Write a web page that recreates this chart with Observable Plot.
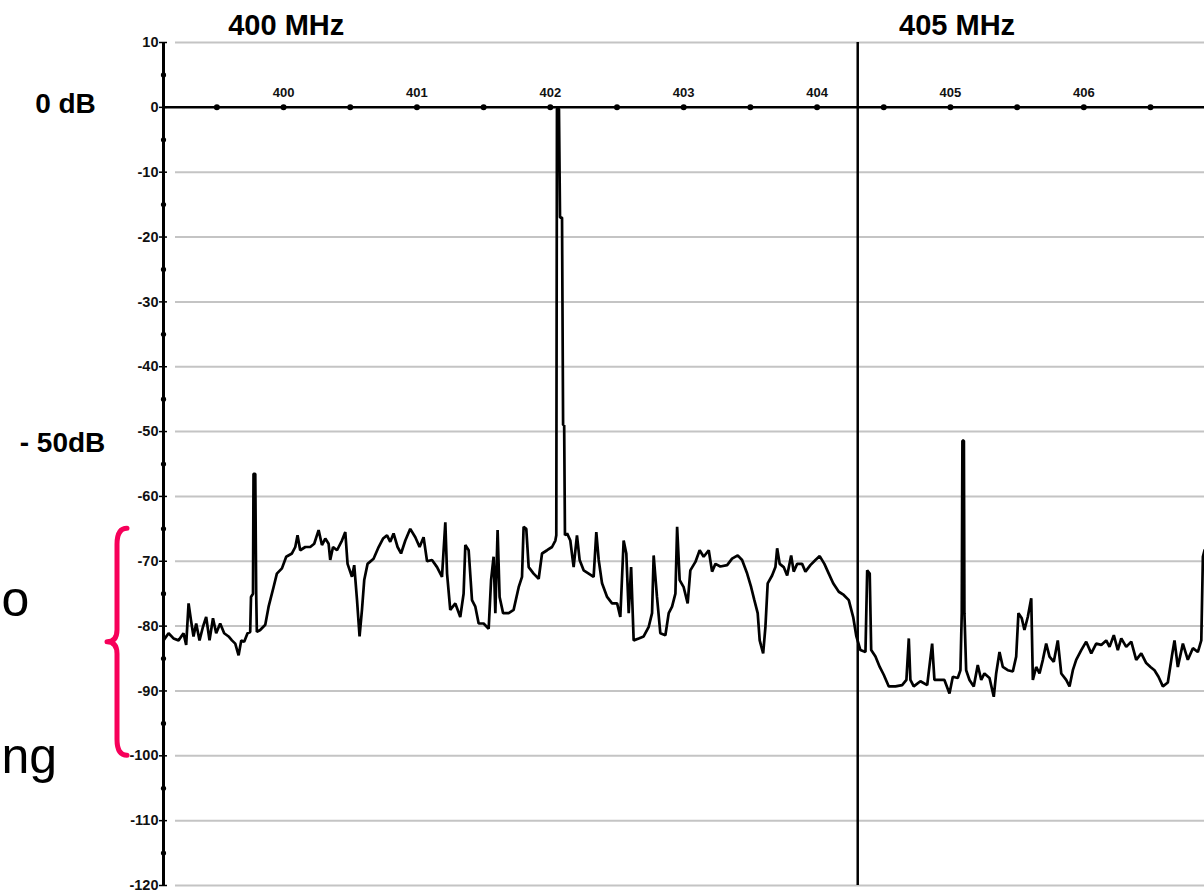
<!DOCTYPE html>
<html>
<head>
<meta charset="utf-8">
<script src="https://cdn.jsdelivr.net/npm/d3@7"></script>
<script src="https://cdn.jsdelivr.net/npm/@observablehq/plot@0.6"></script>
<style>
  html, body { margin: 0; padding: 0; background: #fff; overflow: hidden; }
  #chart svg { display: block; }
</style>
</head>
<body>
<div id="chart"></div>
<script>
// ---- data ----
const freqMHz = [
  399.100,399.138,399.175,399.213,399.250,399.270,399.288,399.306,399.325,399.345,
  399.370,399.396,399.420,399.445,399.471,399.495,399.525,399.555,399.588,399.613,
  399.638,399.663,399.683,399.705,399.730,399.750,399.756,399.771,399.775,399.788,
  399.795,399.800,399.825,399.863,399.888,399.925,399.950,399.988,400.020,400.063,
  400.088,400.105,400.125,400.163,400.200,400.230,400.263,400.288,400.313,400.338,
  400.350,400.371,400.401,400.438,400.463,400.480,400.513,400.530,400.551,400.570,
  400.588,400.605,400.630,400.675,400.713,400.746,400.776,400.800,400.825,400.855,
  400.881,400.913,400.950,400.988,401.020,401.050,401.076,401.113,401.151,401.188,
  401.213,401.226,401.250,401.288,401.325,401.350,401.363,401.388,401.413,401.438,
  401.463,401.500,401.538,401.556,401.575,401.588,401.605,401.620,401.646,401.688,
  401.725,401.763,401.788,401.800,401.820,401.838,401.875,401.913,401.938,401.976,
  402.013,402.038,402.045,402.050,402.065,402.073,402.088,402.096,402.104,402.110,
  402.126,402.150,402.175,402.200,402.220,402.250,402.288,402.325,402.345,402.363,
  402.388,402.426,402.463,402.501,402.525,402.550,402.570,402.588,402.606,402.625,
  402.663,402.700,402.738,402.763,402.775,402.800,402.825,402.863,402.888,402.913,
  402.938,402.951,402.970,403.000,403.030,403.050,403.088,403.120,403.150,403.188,
  403.213,403.238,403.275,403.326,403.363,403.405,403.438,403.476,403.506,403.530,
  403.555,403.570,403.596,403.613,403.630,403.663,403.688,403.701,403.720,403.750,
  403.776,403.806,403.825,403.851,403.888,403.913,403.950,403.988,404.020,404.055,
  404.088,404.121,404.163,404.200,404.238,404.271,404.295,404.325,404.363,404.376,
  404.395,404.406,404.438,404.470,404.500,404.538,404.588,404.638,404.670,404.688,
  404.700,404.725,404.775,404.826,404.863,404.880,404.918,404.955,404.993,405.018,
  405.055,405.075,405.085,405.090,405.101,405.105,405.118,405.143,405.175,405.205,
  405.231,405.255,405.293,405.325,405.343,405.368,405.393,405.430,405.468,405.493,
  405.510,405.535,405.555,405.580,405.606,405.618,405.643,405.668,405.693,405.718,
  405.743,405.775,405.805,405.831,405.868,405.893,405.918,405.943,405.981,406.018,
  406.056,406.093,406.131,406.168,406.193,406.225,406.255,406.281,406.318,406.356,
  406.393,406.431,406.468,406.500,406.530,406.560,406.593,406.630,406.660,406.680,
  406.705,406.743,406.780,406.818,406.855,406.881,406.893,406.905
];
const levelDb = [
  -82.2,-81.1,-81.9,-82.2,-81.1,-82.9,-76.5,-79.1,-81.6,-79.6,
  -82.2,-80.1,-78.6,-82.2,-78.8,-81.1,-79.6,-81.1,-81.6,-82.2,
  -82.7,-84.5,-82.2,-82.4,-81.1,-80.9,-75.5,-75.0,-56.5,-56.5,
  -75.0,-80.9,-80.6,-79.8,-77.0,-74.0,-71.9,-71.1,-69.3,-68.8,
  -67.8,-66.0,-68.3,-67.8,-67.8,-67.3,-65.2,-67.5,-66.5,-67.3,
  -69.8,-67.8,-68.3,-66.8,-65.5,-70.4,-72.4,-70.6,-76.0,-81.6,
  -77.5,-72.9,-70.4,-69.6,-67.8,-66.5,-66.0,-67.0,-65.7,-67.8,
  -68.8,-66.8,-65.0,-66.3,-67.8,-66.3,-70.0,-69.8,-70.9,-72.4,
  -64.0,-71.9,-77.5,-76.5,-78.6,-75.0,-67.5,-68.3,-76.0,-77.0,
  -79.6,-79.6,-80.4,-72.9,-69.3,-78.0,-65.2,-75.5,-78.0,-78.0,
  -77.5,-74.0,-72.4,-64.7,-65.0,-70.9,-71.9,-72.7,-68.8,-68.3,
  -67.8,-66.8,-66.0,-0.2,-0.2,-17.0,-17.0,-49.0,-49.0,-66.0,
  -65.7,-66.8,-70.9,-66.0,-69.8,-71.4,-71.9,-72.4,-65.5,-69.8,
  -73.4,-75.5,-76.5,-76.5,-78.6,-66.8,-68.8,-78.0,-70.9,-82.2,
  -81.9,-81.6,-80.1,-78.0,-69.1,-75.5,-81.1,-81.4,-78.0,-77.0,
  -75.0,-64.7,-72.9,-74.0,-76.5,-71.4,-70.1,-68.3,-69.3,-68.3,
  -71.6,-70.4,-70.8,-70.6,-69.6,-69.1,-69.8,-71.9,-74.0,-76.0,
  -78.0,-82.2,-84.2,-80.1,-73.4,-72.2,-70.9,-68.0,-70.4,-70.9,
  -72.2,-69.1,-71.6,-70.4,-70.4,-71.6,-70.6,-69.8,-69.2,-70.4,
  -71.9,-73.4,-74.7,-75.2,-76.0,-78.6,-81.6,-83.7,-84.0,-71.4,
  -71.9,-83.7,-84.7,-86.3,-87.5,-89.3,-89.3,-89.1,-88.3,-81.9,
  -88.3,-89.3,-88.5,-89.1,-82.7,-88.3,-88.3,-88.3,-90.4,-87.8,
  -88.0,-86.8,-78.0,-51.4,-51.4,-78.0,-86.8,-88.3,-89.3,-86.0,
  -88.3,-87.3,-88.0,-90.9,-87.3,-84.0,-86.3,-86.8,-87.0,-84.7,
  -78.0,-78.8,-80.6,-78.6,-75.7,-88.3,-86.3,-87.3,-85.2,-82.7,
  -84.7,-85.5,-82.2,-87.3,-88.3,-89.3,-86.8,-85.2,-83.7,-82.4,
  -84.2,-82.7,-82.9,-82.2,-83.2,-81.4,-83.7,-81.9,-83.2,-82.4,
  -85.2,-84.2,-85.7,-86.3,-86.8,-87.8,-89.3,-88.7,-84.7,-82.2,
  -86.3,-82.7,-85.2,-83.4,-84.0,-82.2,-69.3,-68.3
];
const yTickValues = [10,0,-10,-20,-30,-40,-50,-60,-70,-80,-90,-100,-110,-120];
const yMinorDots = [5,-5,-15,-25,-35,-45,-55,-65,-75,-85,-95,-105,-115];
const xTickValues = [400,401,402,403,404,405,406];
const xDotValues = [399.5,400,400.5,401,401.5,402,402.5,403,403.5,404,404.5,405,405.5,406,406.5];
const markerMHz = [404.305];
const bandLabels = ["400 MHz", "405 MHz"];
const bandLabelMHz = [400.02, 405.05];
const xDomain = [399.1, 406.905];
const yDomain = [-120, 10];
const braceDb = [-65, -100];

const spectrum = freqMHz.map((f, i) => ({f, db: levelDb[i]}));
const FONT = "'Liberation Sans', Arial, Helvetica, sans-serif";

const plot = Plot.plot({
  width: 1204,
  height: 892,
  marginLeft: 163,
  marginRight: 0,
  marginTop: 42,
  marginBottom: 7,
  style: {fontFamily: FONT, background: "#fff", overflow: "visible"},
  x: {domain: xDomain, axis: null},
  y: {domain: yDomain, axis: null},
  marks: [
    // horizontal grid lines
    Plot.ruleY(yTickValues.filter(v => v !== 0), {x1: 399.19, x2: xDomain[1], stroke: "#c4c4c4", strokeWidth: 2}),
    // frequency axis on the 0 dB line
    Plot.ruleY([0], {x1: xDomain[0], x2: xDomain[1], stroke: "#000", strokeWidth: 2.5}),
    Plot.dot(xDotValues, {x: d => d, y: 0, r: 3, fill: "#000", stroke: null}),
    Plot.text(xTickValues, {x: d => d, y: 0, dy: -15, text: d => String(d), fontSize: 13, fontWeight: "bold", fill: "#111"}),
    // marker line
    Plot.ruleX(markerMHz, {y1: yDomain[1], y2: yDomain[0], stroke: "#000", strokeWidth: 2.5}),
    // spectrum trace
    Plot.line(spectrum, {x: "f", y: "db", stroke: "#000", strokeWidth: 2.7, strokeLinejoin: "miter"}),
    // y axis
    Plot.ruleX([xDomain[0]], {y1: yDomain[1], y2: yDomain[0], stroke: "#000", strokeWidth: 3}),
    Plot.dot(yMinorDots, {y: d => d, frameAnchor: "left", r: 2.6, fill: "#000", stroke: null}),
    Plot.ruleY(yTickValues, {x1: 399.07, x2: 399.13, stroke: "#000", strokeWidth: 1.5}),
    Plot.axisY({ticks: yTickValues, tickFormat: d => String(d), tickSize: 0, tickPadding: 5,
      fontSize: 14.5, fontWeight: "bold", label: null, fill: "#111"}),
    // band titles
    Plot.text(bandLabels, {x: (d, i) => bandLabelMHz[i], frameAnchor: "top", lineAnchor: "bottom", dy: -8,
      text: d => d, fontSize: 29, fontWeight: "bold", fill: "#000"}),
    // level annotations
    Plot.text(["0 dB"], {y: 0, frameAnchor: "left", dx: -98, dy: -3, text: d => d, textAnchor: "middle",
      fontSize: 28, fontWeight: "bold", fill: "#000"}),
    Plot.text(["- 50dB"], {y: -50, frameAnchor: "left", dx: -101, dy: 11, text: d => d, textAnchor: "middle",
      fontSize: 28, fontWeight: "bold", fill: "#000"}),
    // slide text at left edge
    Plot.text(["o"], {y: -78.5, frameAnchor: "left", dx: -162, text: d => d, textAnchor: "start", lineAnchor: "bottom",
      fontSize: 50, fill: "#000"}),
    Plot.text(["ng"], {y: -102.6, frameAnchor: "left", dx: -162, text: d => d, textAnchor: "start", lineAnchor: "bottom",
      fontSize: 50, fill: "#000"})
  ]
});

document.getElementById("chart").appendChild(plot);

// red curly brace spanning the noise band
(function drawBrace() {
  const ys = plot.scale("y");
  const y1 = ys.apply(braceDb[0]);
  const y2 = ys.apply(braceDb[1]);
  const yc = (y1 + y2) / 2;
  const xEnd = 127, xSpine = 117, xTip = 107;
  const d = `M${xEnd},${y1} Q${xSpine},${y1} ${xSpine},${y1 + 16} L${xSpine},${yc - 12} Q${xSpine},${yc} ${xTip},${yc}` +
            ` Q${xSpine},${yc} ${xSpine},${yc + 12} L${xSpine},${y2 - 16} Q${xSpine},${y2} ${xEnd},${y2}`;
  d3.select(plot).append("path")
    .attr("d", d)
    .attr("fill", "none")
    .attr("stroke", "#f7005a")
    .attr("stroke-width", 5)
    .attr("stroke-linecap", "round")
    .attr("stroke-linejoin", "round");
})();
</script>
</body>
</html>
